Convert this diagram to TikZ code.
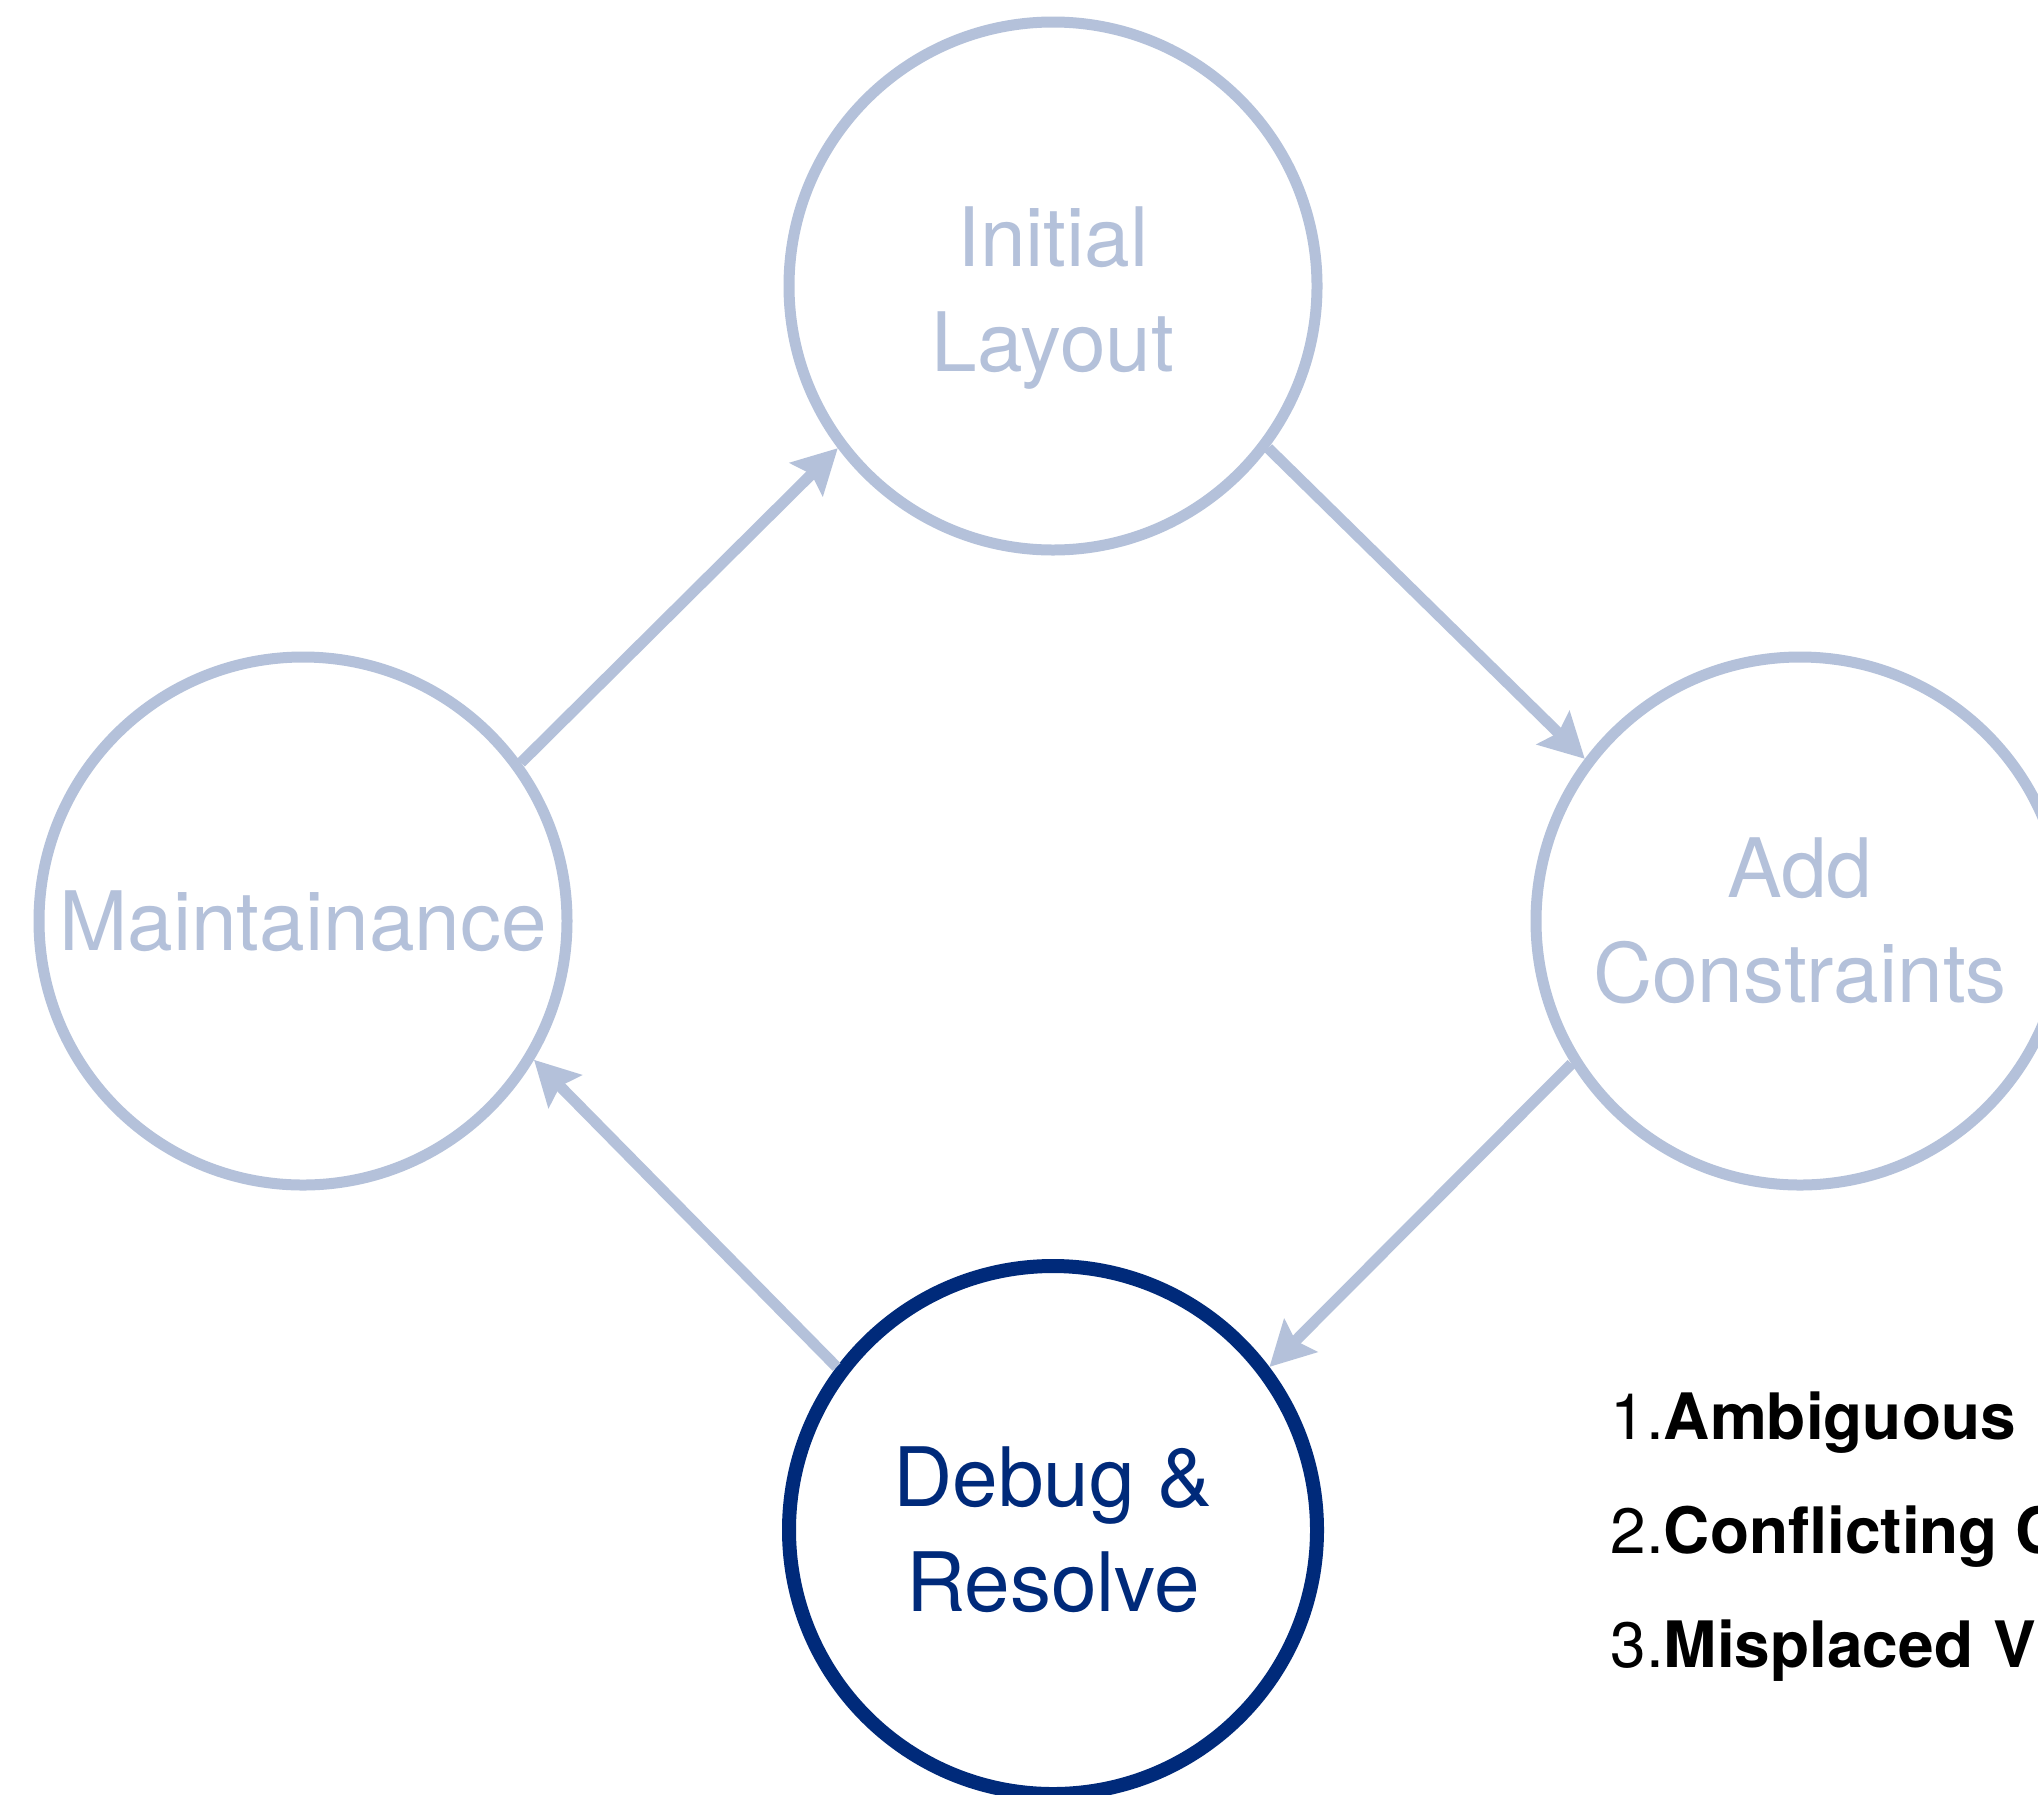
\documentclass[tikz,border=0pt]{standalone}
\usepackage{fontspec}
\setmainfont{TeX Gyre Heros}
\usetikzlibrary{arrows.meta}
\definecolor{navy}{RGB}{0,42,122}
\definecolor{paleblue}{RGB}{180,193,218}
\begin{document}
\begin{tikzpicture}[x=0.5pt,y=-0.5pt,
  stage/.style={circle, draw=paleblue, line width=5.5pt, minimum size=264pt, inner sep=0pt,
    align=center, font=\fontsize{41}{52.5}\selectfont, text=paleblue},
  stagetext/.style={inner sep=0pt, align=center, font=\fontsize{41}{52.5}\selectfont, text=paleblue},
  current/.style={draw=navy, text=navy, line width=7pt},
  flow/.style={draw=paleblue, line width=5.5pt,
    -{Stealth[length=22pt,width=23pt,inset=3.5pt]}},
  item/.style={anchor=base west, font=\fontsize{32}{38}\selectfont, inner sep=0pt}
]
\useasboundingbox (0,0) rectangle (2038,1794);
\clip (0,0) rectangle (2038,1794);
\fill[white] (0,0) rectangle (2038,1794);

\node[stage] (IL) at (1053,286) {};
\node[stagetext] (ILt) at (1053,298) {Initial\\Layout};
\node[stage] (M) at (303,921) {Maintainance};
\node[stage] (AC) at (1800,921) {Add\\Constraints};
\node[stage, current] (DR) at (1053,1530) {Debug \&\\Resolve};

\draw[flow] (M.36) -- (IL.217);
\draw[flow] (IL.-37) -- (AC.143);
\draw[flow] (AC.212) -- (DR.37);
\draw[flow] (DR.143) -- (M.-31);

\node[item] (l1) at (1610,1439) {1.\textbf{Ambiguous Layout}};
\node[item] (l2) at (1610,1553) {2.\textbf{Conflicting Constraints}};
\node[item] (l3) at (1610,1667) {3.\textbf{Misplaced\kern10pt Views}};
\end{tikzpicture}
\end{document}
